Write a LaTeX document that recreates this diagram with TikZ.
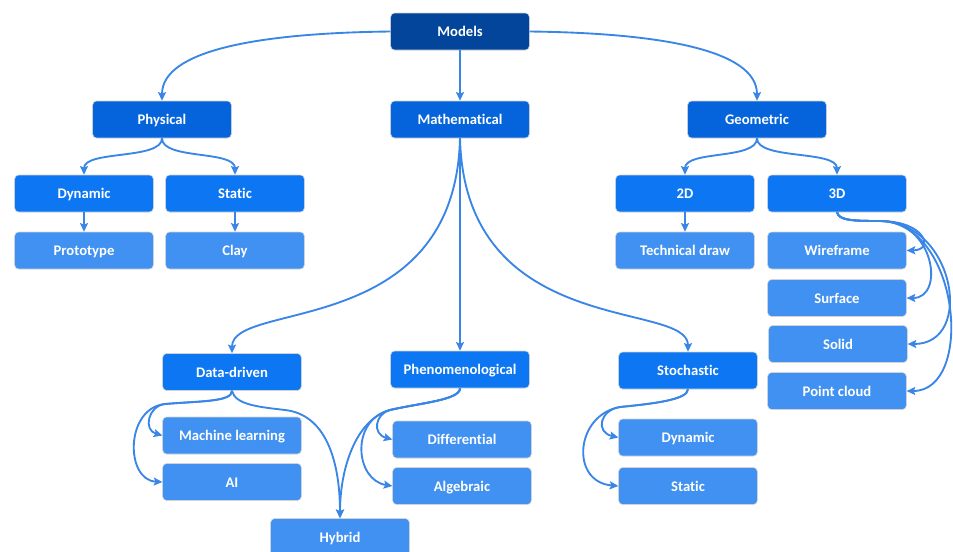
\documentclass[tikz,border=0pt]{standalone}
\usepackage{fontspec}
\setmainfont{Carlito}[Ligatures={NoCommon}]
\usetikzlibrary{arrows.meta}
\definecolor{cTop}{HTML}{02459A}
\definecolor{cOne}{HTML}{0564DB}
\definecolor{cTwo}{HTML}{0D77F3}
\definecolor{cLeaf}{HTML}{4091F1}
\definecolor{cLine}{HTML}{3A86E6}
\tikzset{
  box/.style={rounded corners=3pt, minimum width=104pt, minimum height=27.75pt, inner sep=0pt,
    text height=1.9ex, text depth=0.2ex,
    text=white, font=\bfseries\fontsize{11}{12}\selectfont, draw=gray!35, line width=0.4pt},
  topbox/.style={box, fill=cTop},
  onebox/.style={box, fill=cOne},
  twobox/.style={box, fill=cTwo},
  leafbox/.style={box, fill=cLeaf},
  conn/.style={draw=cLine, line width=1.4pt, -{Stealth[length=6.5pt,width=6pt,inset=1.2pt]}},
}
\begin{document}
\begin{tikzpicture}[x=0.75pt,y=-0.75pt]
\useasboundingbox (0,0) rectangle (953,551);
% nodes
\node[topbox] (models) at (460,31.5) {Models};
\node[onebox] (phys) at (162,119.5) {Physical};
\node[onebox] (math) at (460,119.5) {Mathematical};
\node[onebox] (geom) at (757,119.5) {Geometric};
\node[twobox] (pdyn) at (84,193.5) {Dynamic};
\node[twobox] (pstat) at (235,193.5) {Static};
\node[leafbox] (proto) at (84,250.5) {Prototype};
\node[leafbox] (clay) at (235,250.5) {Clay};
\node[twobox] (g2d) at (685,193.5) {2D};
\node[twobox] (g3d) at (837,193.5) {3D};
\node[leafbox] (tech) at (685,250.5) {Technical draw};
\node[leafbox] (wire) at (837,250.5) {Wireframe};
\node[leafbox] (surf) at (837,298) {Surface};
\node[leafbox] (solid) at (838,344) {Solid};
\node[leafbox] (pcloud) at (837,391) {Point cloud};
\node[twobox] (data) at (232,372) {Data-driven};
\node[leafbox] (ml) at (232,435.5) {Machine learning};
\node[leafbox] (ai) at (232,482) {AI};
\node[leafbox] (hyb) at (340,537) {Hybrid};
\node[twobox] (phen) at (460,369.5) {Phenomenological};
\node[leafbox] (diff) at (462,439.5) {Differential};
\node[leafbox] (alg) at (462,486) {Algebraic};
\node[twobox] (stoch) at (688,370.5) {Stochastic};
\node[leafbox] (sdyn) at (688,437.5) {Dynamic};
\node[leafbox] (sstat) at (688,486) {Static};
% connectors
\draw[conn] (models.west) .. controls (260,33) and (162,50) .. (phys.north);
\draw[conn] (models.east) .. controls (660,33) and (757,50) .. (geom.north);
\draw[conn] (models.south) -- (math.north);
\draw[conn] (phys.south) .. controls (162,160) and (84,150) .. (pdyn.north);
\draw[conn] (phys.south) .. controls (162,160) and (235,150) .. (pstat.north);
\draw[conn] (pdyn.south) -- (proto.north);
\draw[conn] (pstat.south) -- (clay.north);
\draw[conn] (geom.south) .. controls (757,160) and (685,150) .. (g2d.north);
\draw[conn] (geom.south) .. controls (757,160) and (837,150) .. (g3d.north);
\draw[conn] (g2d.south) -- (tech.north);
\draw[conn] (g3d.south) .. controls (839,220) and (850,221) .. (880,221) .. controls (925,221) and (935,250) .. (wire.east);
\draw[conn] (g3d.south) .. controls (839,220) and (850,221) .. (880,221) .. controls (935,221) and (945,298) .. (surf.east);
\draw[conn] (g3d.south) .. controls (839,220) and (850,221) .. (880,221) .. controls (955,222) and (975,344) .. (solid.east);
\draw[conn] (g3d.south) .. controls (839,220) and (850,221) .. (880,221) .. controls (960,222) and (975,391) .. (pcloud.east);
\draw[conn] (math.south) .. controls (455,340) and (232,300) .. (data.north);
\draw[conn] (math.south) -- (phen.north);
\draw[conn] (math.south) .. controls (465,340) and (688,300) .. (stoch.north);
\draw[conn] (data.south) .. controls (232,402) and (200,401) .. (165,404) .. controls (148,406) and (143,430) .. (ml.west);
\draw[conn] (data.south) .. controls (232,402) and (200,401) .. (165,404) .. controls (125,408) and (125,480) .. (ai.west);
\draw[conn] (data.south) .. controls (235,405) and (260,407) .. (285,410) .. controls (330,415) and (340,470) .. (hyb.north);
\draw[conn] (phen.south) .. controls (460,400) and (420,403) .. (390,410) .. controls (375,414) and (372,434) .. (diff.west);
\draw[conn] (phen.south) .. controls (460,400) and (420,403) .. (390,410) .. controls (350,420) and (355,480) .. (alg.west);
\draw[conn] (phen.south) .. controls (460,400) and (420,403) .. (390,410) .. controls (355,420) and (340,470) .. (hyb.north);
\draw[conn] (stoch.south) .. controls (688,400) and (650,404) .. (620,407) .. controls (600,410) and (595,432) .. (sdyn.west);
\draw[conn] (stoch.south) .. controls (688,400) and (650,404) .. (620,407) .. controls (575,415) and (570,482) .. (sstat.west);
\end{tikzpicture}
\end{document}
